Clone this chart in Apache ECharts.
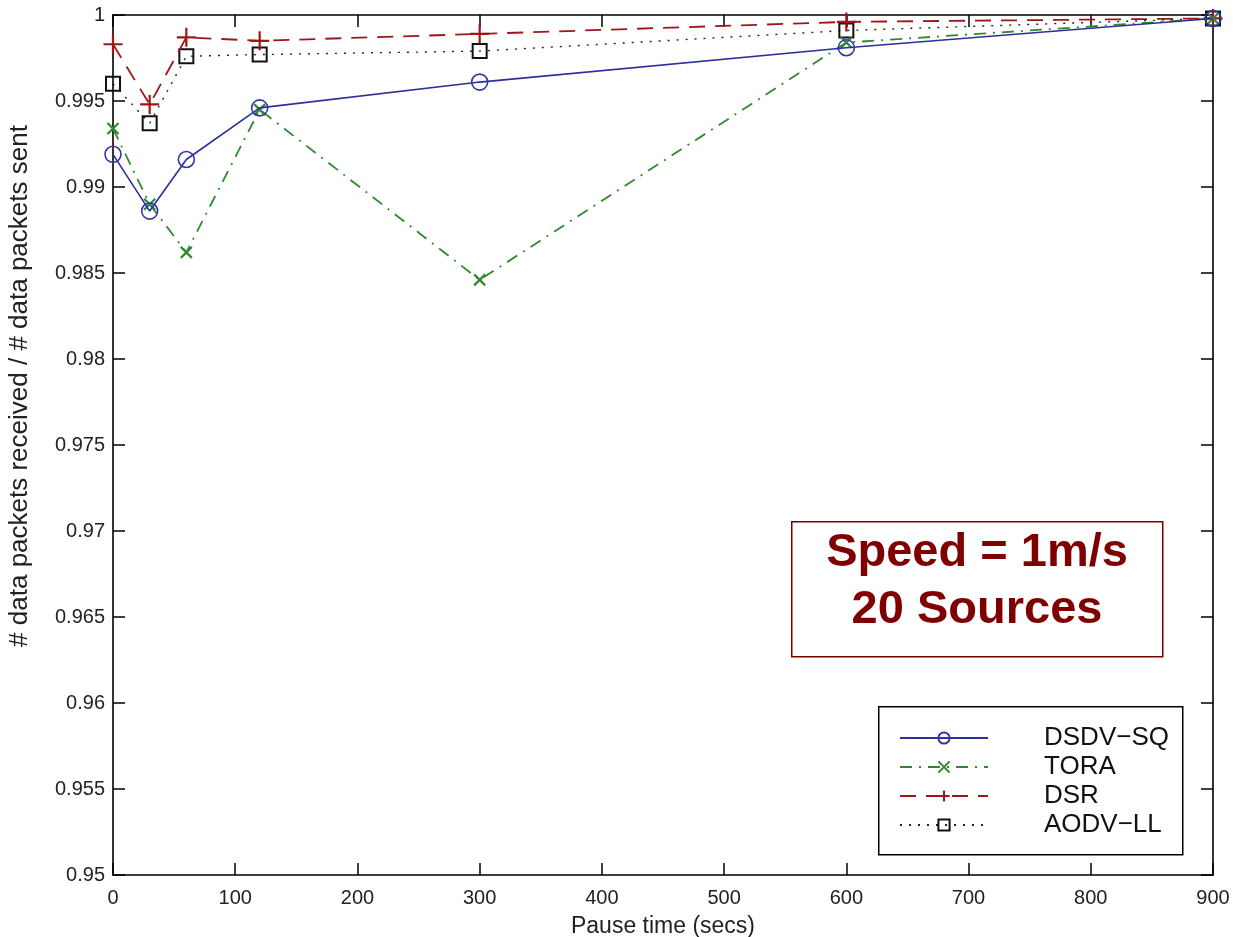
<!DOCTYPE html>
<html>
<head>
<meta charset="utf-8">
<script src="https://cdn.jsdelivr.net/npm/echarts@6/dist/echarts.min.js"></script>
<style>
html,body{margin:0;padding:0;background:#fff;}
#chart{width:1233px;height:937px;}
</style>
</head>
<body>
<div id="chart"></div>
<script>
const pauseTimes = [0, 30, 60, 120, 300, 600, 900];
const dsdvSQ = [0.9919, 0.9886, 0.9916, 0.9946, 0.9961, 0.9981, 0.9998];
const tora   = [0.9934, 0.9890, 0.9862, 0.9945, 0.9846, 0.9984, 0.9998];
const dsr    = [0.9983, 0.9948, 0.9987, 0.9985, 0.9989, 0.9996, 0.9998];
const aodvLL = [0.9960, 0.9937, 0.9976, 0.9977, 0.9979, 0.9991, 0.9998];
const seriesNames = ['DSDV\u2212SQ', 'TORA', 'DSR', 'AODV\u2212LL'];
const annotationLines = ['Speed = 1m/s', '20 Sources'];

const FONT = '"Liberation Sans", Arial, Helvetica, sans-serif';
const pair = (xs, ys) => xs.map((x, i) => [x, ys[i]]);

const chart = echarts.init(document.getElementById('chart'), null, {renderer: 'canvas'});

const axisCommon = {
  axisLine: {show: true, onZero: false, lineStyle: {color: '#000', width: 1.6}},
  axisTick: {show: true, inside: true, length: 12, lineStyle: {color: '#000', width: 1.5}},
  splitLine: {show: false}
};

const option = {
  backgroundColor: '#fff',
  animation: false,
  grid: {left: 113, right: 20, top: 15, bottom: 62, containLabel: false, outerBoundsMode: 'none'},
  xAxis: [
    Object.assign({
      type: 'value', min: 0, max: 900, interval: 100, position: 'bottom',
      name: 'Pause time (secs)', nameLocation: 'middle', nameGap: 40,
      nameTextStyle: {fontFamily: FONT, fontSize: 23, color: '#222'},
      axisLabel: {fontFamily: FONT, fontSize: 20, color: '#222', margin: 13}
    }, axisCommon),
    Object.assign({
      type: 'value', min: 0, max: 900, interval: 100, position: 'top',
      axisLabel: {show: false}
    }, axisCommon)
  ],
  yAxis: [
    Object.assign({
      type: 'value', min: 0.95, max: 1, interval: 0.005, position: 'left',
      name: '# data packets received / # data packets sent', nameLocation: 'middle', nameGap: 80,
      nameTextStyle: {fontFamily: FONT, fontSize: 26, color: '#222', padding: [0, 0, 0, 118]},
      axisLabel: {fontFamily: FONT, fontSize: 20, color: '#222', margin: 8,
        formatter: v => String(parseFloat(v.toFixed(3)))}
    }, axisCommon),
    Object.assign({
      type: 'value', min: 0.95, max: 1, interval: 0.005, position: 'right',
      axisLabel: {show: false}
    }, axisCommon)
  ],
  legend: {
    orient: 'vertical',
    left: 899, top: 725,
    itemWidth: 88, itemHeight: 14, itemGap: 3,
    padding: 0,
    data: seriesNames,
    textStyle: {fontFamily: FONT, fontSize: 26, color: '#111', padding: [0, 0, 0, 51]}
  },
  series: [
    {
      name: seriesNames[0], type: 'line', data: pair(pauseTimes, dsdvSQ),
      symbol: 'circle', symbolSize: 16,
      lineStyle: {color: '#2e2e9e', width: 1.6, type: 'solid'},
      itemStyle: {color: 'rgba(0,0,0,0)', borderColor: '#3535a8', borderWidth: 1.6},
      z: 4
    },
    {
      name: seriesNames[1], type: 'line', data: pair(pauseTimes, tora),
      symbol: 'path://M0,0 L10,10 M10,0 L0,10', symbolSize: 11,
      lineStyle: {color: '#2f8a2f', width: 1.8, type: [12, 7, 2, 7]},
      itemStyle: {color: 'rgba(0,0,0,0)', borderColor: '#2f8a2f', borderWidth: 2.2},
      z: 3
    },
    {
      name: seriesNames[2], type: 'line', data: pair(pauseTimes, dsr),
      symbol: 'path://M0,5 L10,5 M5,0 L5,10', symbolSize: 19,
      lineStyle: {color: '#a01515', width: 1.8, type: [16, 10]},
      itemStyle: {color: 'rgba(0,0,0,0)', borderColor: '#a01515', borderWidth: 2.2},
      z: 2
    },
    {
      name: seriesNames[3], type: 'line', data: pair(pauseTimes, aodvLL),
      symbol: 'rect', symbolSize: 14,
      lineStyle: {color: '#222', width: 1.4, type: [2, 7]},
      itemStyle: {color: 'rgba(0,0,0,0)', borderColor: '#111', borderWidth: 2},
      z: 1
    }
  ],
  graphic: [
    {
      type: 'rect', left: 878, top: 706, z: 0,
      shape: {width: 304, height: 148},
      style: {fill: '#fff', stroke: '#000', lineWidth: 1.5}
    },
    {
      type: 'rect', left: 791, top: 521, z: 10,
      shape: {width: 371, height: 135},
      style: {fill: '#fff', stroke: '#7a0000', lineWidth: 1.5}
    },
    {
      type: 'text', z: 11, x: 977, y: 582,
      style: {
        text: annotationLines.join('\n'),
        align: 'center', verticalAlign: 'middle',
        fontFamily: FONT, fontWeight: 'bold', fontSize: 47, lineHeight: 57,
        fill: '#7f0000'
      }
    }
  ]
};
chart.setOption(option);
</script>
</body>
</html>
